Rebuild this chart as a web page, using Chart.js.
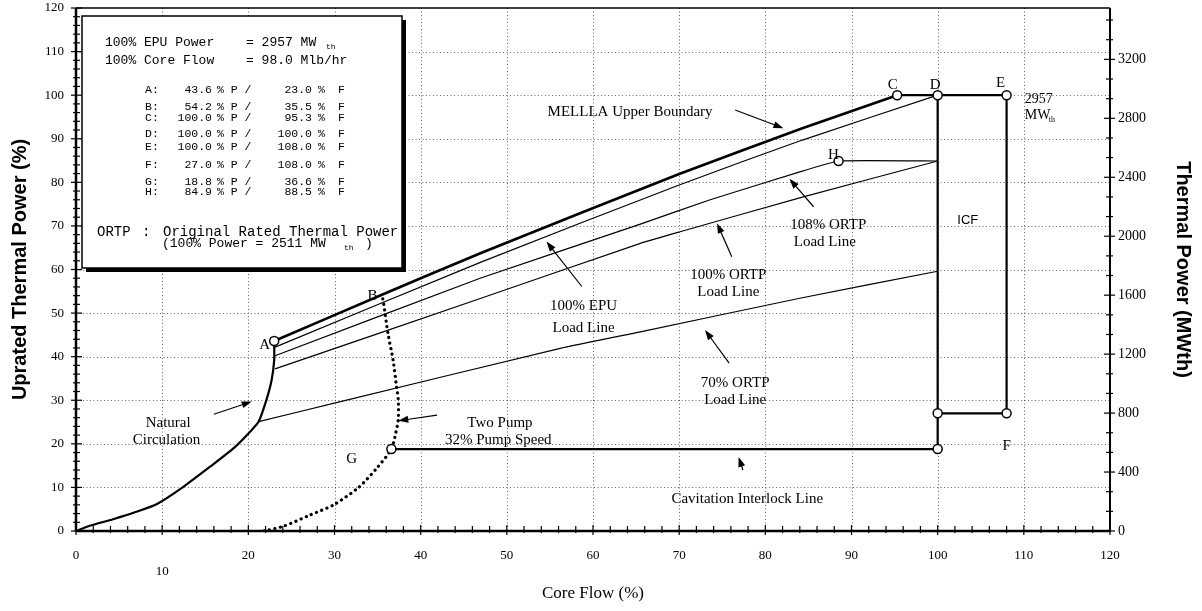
<!DOCTYPE html>
<html><head><meta charset="utf-8">
<script src="https://cdn.jsdelivr.net/npm/chart.js@4.4.1/dist/chart.umd.min.js"></script>
<style>html,body{margin:0;padding:0;background:#fff}canvas{display:block}</style>
</head><body>
<canvas id="c" width="1202" height="611"></canvas>
<script>
// ---------------- data ----------------
const EPU_POWER_MW = 2957;
const ORTP_POWER_MW = 2511;
const CORE_FLOW_MLBHR = 98.0;

const flowTicks  = [0,10,20,30,40,50,60,70,80,90,100,110,120];
const powerTicks = [0,10,20,30,40,50,60,70,80,90,100,110,120];
const mwTicks    = [0,400,800,1200,1600,2000,2400,2800,3200];
const gridValues = [10,20,30,40,50,60,70,80,90,100,110];

const stateLetters = ['A','B','C','D','E','F','G','H'];
const statePower   = [43.6,54.2,100.0,100.0,100.0,27.0,18.8,84.9];
const stateFlow    = [23.0,35.5,95.3,100.0,108.0,108.0,36.6,88.5];

const natCircFlow  = [0,1.6,4.3,7.0,9.4,12.5,15.6,18.3,20.4,21.2,22.1,22.7,23.0,23.0];
const natCircPower = [0,1.2,2.7,4.4,6.2,10.2,14.8,19.0,23.2,25.1,30.1,34.6,39.2,43.6];

const mellaFlow  = [23.0,35.5,47.0,70.0,84.3,95.3];
const mellaPower = [43.6,54.2,63.8,81.9,92.4,100.0];

const icfBoxFlow  = [95.3,108.0,108.0,100.0];
const icfBoxPower = [100.0,100.0,27.0,27.0];

const cavFlow  = [100.0,100.0,36.6];
const cavPower = [100.0,18.8,18.8];

const epuFlow  = [23.1,47.0,70.0,84.3,100.0];
const epuPower = [42.2,61.7,79.4,89.7,100.0];

const ortp108Flow  = [23.1,46.9,65.5,73.6,84.0,88.5,100.0];
const ortp108Power = [40.2,58.0,70.4,76.0,82.4,84.9,84.9];

const ortp100Flow  = [23.1,47.0,65.5,70.0,84.3,100.0];
const ortp100Power = [37.2,53.4,66.0,68.6,76.6,84.9];

const ortp70Flow  = [21.2,30.1,56.2,65.5,84.0,100.0];
const ortp70Power = [25.1,29.4,41.9,45.7,53.4,59.6];

const twoPumpFlow  = [21.8,24.1,27.2,29.9,32.8,34.9,36.6,37.1,37.4,37.4,37.2,36.8,36.2,35.7,35.5];
const twoPumpPower = [0,1.1,3.7,6.0,10.0,14.4,18.8,22.4,25.5,30.1,33.1,39.2,45.4,52.2,54.2];

const cornerFlow  = [100.0,100.0];
const cornerPower = [27.0,18.8];

// ---------------- helpers ----------------
const zip = (xs, ys) => xs.map((x, i) => ({x, y: ys[i]}));
const circled = stateLetters.map((l,i)=>i).filter(i => stateLetters[i] !== 'B');
const markerPts = circled.map(i => ({x: stateFlow[i], y: statePower[i]}))
  .concat(zip(cornerFlow, cornerPower));

const SERIF = '"Liberation Serif", "Times New Roman", serif';
const SANS = '"Liberation Sans", Arial, sans-serif';
const MONO = '"Liberation Mono", "Courier New", monospace';

const annoTexts = [
  {t:'MELLLA Upper Boundary', x:64.3, y:96.2},
  {t:'100% EPU', x:58.9, y:51.5}, {t:'Load Line', x:58.9, y:46.5},
  {t:'108% ORTP', x:87.3, y:70.2}, {t:'Load Line', x:86.9, y:66.2},
  {t:'100% ORTP', x:75.7, y:58.7}, {t:'Load Line', x:75.7, y:54.9},
  {t:'70% ORTP', x:76.5, y:34.0}, {t:'Load Line', x:76.5, y:30.0},
  {t:'Natural', x:10.7, y:24.7}, {t:'Circulation', x:10.5, y:20.9},
  {t:'Two Pump', x:49.2, y:24.7}, {t:'32% Pump Speed', x:49.0, y:20.9},
  {t:'Cavitation Interlock Line', x:77.9, y:7.3}
];
const letterPos = {A:[21.9,42.7],B:[34.4,53.8],C:[94.8,102.4],D:[99.7,102.4],E:[107.3,102.8],F:[108.0,19.5],G:[32.0,16.5],H:[87.9,86.3]};
const arrows = [
  [76.5,96.6,82.1,92.4],[58.7,56.1,54.6,66.4],[85.6,74.4,82.8,80.8],[76.1,62.9,74.4,70.6],
  [75.8,38.5,73.0,46.1],[16.0,26.8,20.4,29.7],[41.9,26.6,37.4,25.3],[77.4,14.0,76.9,17.0]
];

function drawArrow(ctx, x1, y1, x2, y2) {
  const a = Math.atan2(y2 - y1, x2 - x1), L = 10, W = 3.5;
  ctx.beginPath(); ctx.moveTo(x1, y1);
  ctx.lineTo(x2 - L * 0.7 * Math.cos(a), y2 - L * 0.7 * Math.sin(a)); ctx.stroke();
  ctx.beginPath(); ctx.moveTo(x2, y2);
  ctx.lineTo(x2 - L * Math.cos(a) + W * Math.sin(a), y2 - L * Math.sin(a) - W * Math.cos(a));
  ctx.lineTo(x2 - L * Math.cos(a) - W * Math.sin(a), y2 - L * Math.sin(a) + W * Math.cos(a));
  ctx.closePath(); ctx.fill();
}
function seg(ctx, x1, y1, x2, y2) { ctx.beginPath(); ctx.moveTo(x1, y1); ctx.lineTo(x2, y2); ctx.stroke(); }

const overlay = {
  id: 'overlay',
  beforeDatasetsDraw(chart) {
    const {ctx, chartArea: ca, scales: {x, y}} = chart;
    ctx.save();
    ctx.strokeStyle = 'rgba(0,0,0,0.6)'; ctx.lineWidth = 1; ctx.setLineDash([1, 2.5]);
    gridValues.forEach(v => {
      const px = Math.round(x.getPixelForValue(v)) + 0.5;
      seg(ctx, px, ca.top, px, ca.bottom);
      const py = Math.round(y.getPixelForValue(v)) + 0.5;
      seg(ctx, ca.left, py, ca.right, py);
    });
    ctx.restore();
  },
  afterDatasetsDraw(chart) {
    const {ctx, chartArea: ca, scales: {x, y, y2}} = chart;
    ctx.save();
    ctx.strokeStyle = '#000'; ctx.fillStyle = '#000'; ctx.setLineDash([]);
    // frame
    ctx.lineWidth = 1.5; seg(ctx, ca.left, ca.top, ca.right, ca.top);
    ctx.lineWidth = 2; seg(ctx, ca.right, ca.top, ca.right, ca.bottom + 1);
    ctx.lineWidth = 2.5; seg(ctx, ca.left, ca.top, ca.left, ca.bottom + 1);
    seg(ctx, ca.left - 1, ca.bottom, ca.right + 1, ca.bottom);
    // ticks
    ctx.lineWidth = 1.2;
    for (let v = 0; v <= 120; v += 2) {
      const major = v % 10 === 0;
      const py = y.getPixelForValue(v);
      seg(ctx, ca.left - (major ? 5 : 3), py, ca.left + (major ? 6 : 4), py);
      const px = x.getPixelForValue(v);
      seg(ctx, px, ca.bottom - (major ? 6 : 5), px, ca.bottom + (major ? 4 : 2));
    }
    for (let k = 0; k * 400 / 3 <= y2.max; k++) {
      const major = k % 3 === 0;
      const py = y2.getPixelForValue(k * 400 / 3);
      seg(ctx, ca.right - (major ? 6 : 4), py, ca.right + (major ? 5 : 3), py);
    }
    // annotation texts
    ctx.font = '15px ' + SERIF; ctx.textAlign = 'center'; ctx.textBaseline = 'middle';
    annoTexts.forEach(a => ctx.fillText(a.t, x.getPixelForValue(a.x), y.getPixelForValue(a.y)));
    stateLetters.forEach(l => {
      const p = letterPos[l];
      ctx.fillText(l, x.getPixelForValue(p[0]), y.getPixelForValue(p[1]));
    });
    // 2957 MWth
    ctx.textAlign = 'left';
    ctx.font = '14px ' + SERIF;
    const mx = x.getPixelForValue(110.1);
    ctx.fillText(String(EPU_POWER_MW), mx, y.getPixelForValue(99.0));
    ctx.fillText('MW', mx, y.getPixelForValue(95.3));
    ctx.font = '8px ' + SERIF;
    ctx.fillText('th', mx + 24, y.getPixelForValue(95.3) + 4);
    // ICF
    ctx.font = '13px ' + SANS; ctx.textAlign = 'center';
    ctx.fillText('ICF', x.getPixelForValue(103.5), y.getPixelForValue(71.2));
    // arrows
    ctx.lineWidth = 1.2;
    arrows.forEach(a => drawArrow(ctx, x.getPixelForValue(a[0]), y.getPixelForValue(a[1]),
                                       x.getPixelForValue(a[2]), y.getPixelForValue(a[3])));
    // info box
    const bx = ca.left + 6, by = ca.top + 8, bw = 320, bh = 252;
    ctx.fillStyle = '#000'; ctx.fillRect(bx + 4, by + 4, bw, bh);
    ctx.fillStyle = '#fff'; ctx.fillRect(bx, by, bw, bh);
    ctx.lineWidth = 1.5; ctx.strokeRect(bx, by, bw, bh);
    ctx.fillStyle = '#000'; ctx.textAlign = 'left'; ctx.textBaseline = 'middle';
    ctx.font = '13px ' + MONO;
    ctx.fillText('100% EPU Power', bx + 23, by + 27);
    ctx.fillText('= ' + EPU_POWER_MW + ' MW', bx + 164, by + 27);
    ctx.fillText('100% Core Flow', bx + 23, by + 45);
    ctx.fillText('= ' + CORE_FLOW_MLBHR.toFixed(1) + ' Mlb/hr', bx + 164, by + 45);
    ctx.font = '8px ' + MONO;
    ctx.fillText('th', bx + 244, by + 31);
    const rowY = [74, 91.3, 101.5, 118, 131.3, 149, 165.7, 175.7];
    ctx.font = '11.5px ' + MONO;
    stateLetters.forEach((l, i) => {
      const ry = by + rowY[i];
      ctx.textAlign = 'left';
      ctx.fillText(l + ':', bx + 63, ry);
      ctx.textAlign = 'right';
      ctx.fillText(statePower[i].toFixed(1), bx + 130, ry);
      ctx.fillText(stateFlow[i].toFixed(1), bx + 230, ry);
      ctx.textAlign = 'left';
      ctx.fillText('% P /', bx + 135, ry);
      ctx.fillText('%', bx + 236, ry);
      ctx.fillText('F', bx + 256, ry);
    });
    ctx.font = '14px ' + MONO;
    ctx.fillText('ORTP', bx + 15, by + 216);
    ctx.fillText(':', bx + 60, by + 216);
    ctx.fillText('Original Rated Thermal Power', bx + 81, by + 216);
    ctx.font = '13px ' + MONO;
    ctx.fillText('(100% Power = ' + ORTP_POWER_MW + ' MW', bx + 80, by + 228);
    ctx.fillText(')', bx + 283, by + 228);
    ctx.font = '8px ' + MONO;
    ctx.fillText('th', bx + 262, by + 232);
    ctx.restore();
  }
};

const lineDs = (data, w, extra) => Object.assign({
  data, showLine: true, borderColor: '#000', borderWidth: w, pointRadius: 0,
  pointHoverRadius: 0, fill: false, tension: 0
}, extra || {});

const noPadV = s => { s.paddingTop = 0; s.paddingBottom = 0; };

new Chart(document.getElementById('c'), {
  type: 'scatter',
  data: {
    datasets: [
      {data: markerPts, showLine: false, pointRadius: 4.5, pointBorderWidth: 1.5,
       pointBackgroundColor: '#fff', pointBorderColor: '#000', order: -1},
      lineDs(zip(natCircFlow, natCircPower), 2.2, {tension: 0.2}),
      lineDs(zip(mellaFlow, mellaPower), 2.6, {tension: 0.15}),
      lineDs(zip(icfBoxFlow, icfBoxPower), 2.2),
      lineDs(zip(cavFlow, cavPower), 2.2),
      lineDs(zip(epuFlow, epuPower), 1.2, {tension: 0.15}),
      lineDs(zip(ortp108Flow, ortp108Power), 1.2, {tension: 0.1}),
      lineDs(zip(ortp100Flow, ortp100Power), 1.2, {tension: 0.15}),
      lineDs(zip(ortp70Flow, ortp70Power), 1.2, {tension: 0.15}),
      lineDs(zip(twoPumpFlow, twoPumpPower), 3.2, {borderDash: [0.1, 5.5], borderCapStyle: 'round', tension: 0.25})
    ]
  },
  options: {
    responsive: false, animation: false, devicePixelRatio: 1,
    layout: {padding: {top: 8, left: 0, right: 0, bottom: 0}},
    plugins: {legend: {display: false}, tooltip: {enabled: false}},
    scales: {
      x: {
        type: 'linear', min: 0, max: 120,
        afterFit: s => { s.height = 80; s.paddingLeft = 0; s.paddingRight = 0; },
        afterBuildTicks: s => { s.ticks = flowTicks.map(v => ({value: v})); },
        grid: {display: false, drawTicks: false}, border: {display: false},
        ticks: {padding: 17, color: '#000', font: {family: SERIF, size: 13},
                callback: v => v === 10 ? ['', '10'] : String(v)},
        title: {display: true, text: 'Core Flow (%)', color: '#000',
                font: {family: SERIF, size: 17}, padding: {top: 0, bottom: 7}}
      },
      y: {
        type: 'linear', position: 'left', min: 0, max: 120,
        afterFit: s => { s.width = 76; noPadV(s); },
        afterBuildTicks: s => { s.ticks = powerTicks.map(v => ({value: v})); },
        grid: {display: false, drawTicks: false}, border: {display: false},
        ticks: {padding: 12, color: '#000', font: {family: SERIF, size: 13}},
        title: {display: true, text: 'Uprated Thermal Power (%)', color: '#000',
                font: {family: SANS, size: 20, weight: 'bold'}, padding: {top: 8, bottom: 0}}
      },
      y2: {
        type: 'linear', position: 'right', min: 0, max: EPU_POWER_MW * 1.2,
        afterFit: s => { s.width = 92; noPadV(s); },
        afterBuildTicks: s => { s.ticks = mwTicks.map(v => ({value: v})); },
        grid: {display: false, drawTicks: false}, border: {display: false},
        ticks: {padding: 8, color: '#000', font: {family: SERIF, size: 14},
                callback: v => String(v)},
        title: {display: true, text: 'Thermal Power (MWth)', color: '#000',
                font: {family: SANS, size: 20, weight: 'bold'}, padding: {top: 7, bottom: 0}}
      }
    }
  },
  plugins: [overlay]
});
</script>
</body></html>
